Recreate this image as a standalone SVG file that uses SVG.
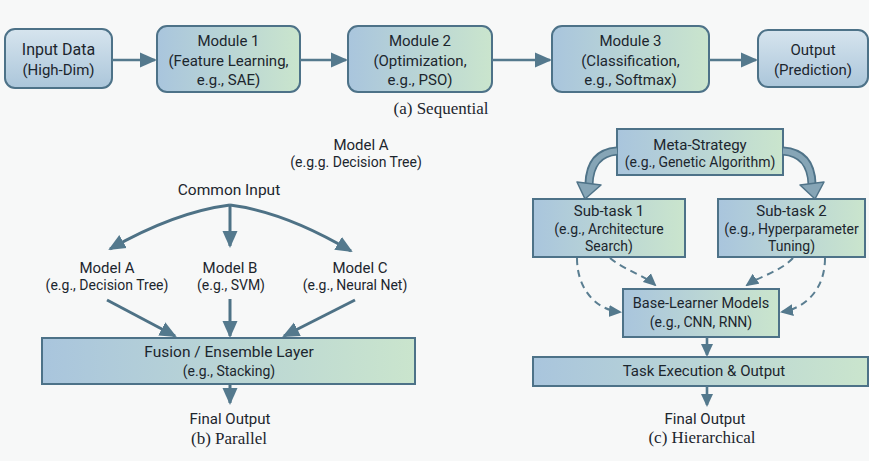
<svg xmlns="http://www.w3.org/2000/svg" width="869" height="461" viewBox="0 0 869 461">
<defs>
<style>
.t{font-family:Roboto,"Liberation Sans",sans-serif;fill:#1c262e;text-anchor:middle;font-size:15px}
.s{font-size:14px}
.cap{font-family:"Liberation Serif",serif;fill:#1c262e;text-anchor:middle;font-size:17px}
.box{stroke:#4d7288;stroke-width:2;fill:url(#gH)}
.boxv{stroke:#4d7288;stroke-width:2;fill:url(#gV)}
.ln{fill:none;stroke:#54798d;stroke-width:2.6}
.ln3{fill:none;stroke:#4e7286;stroke-width:3}
.dash{fill:none;stroke:#5a7e91;stroke-width:2;stroke-dasharray:7 5}
</style>
<linearGradient id="gH" x1="0" y1="0" x2="1" y2="0">
<stop offset="0" stop-color="#a9c5dd"/><stop offset="1" stop-color="#cae5cd"/>
</linearGradient>
<linearGradient id="gV" x1="0" y1="0" x2="0" y2="1">
<stop offset="0" stop-color="#d6e4ee"/><stop offset="1" stop-color="#abc6da"/>
</linearGradient>
<marker id="aL" markerUnits="userSpaceOnUse" markerWidth="17" markerHeight="16" viewBox="0 0 17 16" refX="15" refY="8" orient="auto">
<path d="M0,0.5 L17,8 L0,15.5 z" fill="#54798d"/>
</marker>
<marker id="aS" markerUnits="userSpaceOnUse" markerWidth="13" markerHeight="13" viewBox="0 0 13 13" refX="11" refY="6.5" orient="auto">
<path d="M0,0.5 L13,6.5 L0,12.5 z" fill="#54798d"/>
</marker>
</defs>
<rect width="869" height="461" fill="#f7f8f8"/>

<!-- (a) Sequential -->
<g id="input-data">
<rect class="boxv" x="5" y="29" width="107" height="59" rx="10"/>
<text class="t" x="58.5" y="54.5" style="font-size:16px">Input Data</text>
<text class="t" x="58.5" y="74.5">(High-Dim)</text>
</g>
<g id="module-1">
<rect class="box" x="157" y="26" width="143" height="66" rx="10"/>
<text class="t" x="228.5" y="46">Module 1</text>
<text class="t" x="228.5" y="65.5">(Feature Learning,</text>
<text class="t" x="228.5" y="85">e.g., SAE)</text>
</g>
<g id="module-2">
<rect class="box" x="348" y="26" width="144" height="66" rx="10"/>
<text class="t" x="420" y="46">Module 2</text>
<text class="t" x="420" y="65.5">(Optimization,</text>
<text class="t" x="420" y="85">e.g., PSO)</text>
</g>
<g id="module-3">
<rect class="box" x="552" y="26" width="157" height="66" rx="10"/>
<text class="t" x="630.5" y="46">Module 3</text>
<text class="t" x="630.5" y="65.5">(Classification,</text>
<text class="t" x="630.5" y="85">e.g., Softmax)</text>
</g>
<g id="output">
<rect class="boxv" x="758" y="30" width="110" height="57" rx="10"/>
<text class="t" x="813" y="54.5">Output</text>
<text class="t" x="813" y="74.5">(Prediction)</text>
</g>
<text class="cap" x="441" y="114">(a) Sequential</text>

<!-- (b) Parallel -->
<g id="model-a-note">
<text class="t" x="361" y="150">Model A</text>
<text class="t s" x="356" y="167">(e.g.g. Decision Tree)</text>
</g>
<g id="common-input">
<text class="t" x="229" y="195" style="font-size:15.5px">Common Input</text>
</g>
<g id="model-a">
<text class="t" x="107" y="273">Model A</text>
<text class="t s" x="107" y="290">(e.g., Decision Tree)</text>
</g>
<g id="model-b">
<text class="t" x="230" y="273">Model B</text>
<text class="t s" x="231" y="290">(e.g., SVM)</text>
</g>
<g id="model-c">
<text class="t" x="360" y="273">Model C</text>
<text class="t s" x="355" y="290">(e.g., Neural Net)</text>
</g>
<g id="fusion">
<rect class="box" x="42" y="338" width="373" height="46"/>
<text class="t" x="229" y="357" style="font-size:15.5px">Fusion / Ensemble Layer</text>
<text class="t s" x="229" y="376">(e.g., Stacking)</text>
</g>
<g id="final-output-b">
<text class="t" x="230" y="424">Final Output</text>
</g>
<text class="cap" x="229" y="444">(b) Parallel</text>

<!-- (c) Hierarchical -->
<g id="meta-strategy">
<rect class="box" x="617" y="129" width="166" height="46"/>
<text class="t" x="700" y="150">Meta-Strategy</text>
<text class="t s" x="700" y="167">(e.g., Genetic Algorithm)</text>
</g>
<g id="subtask-1">
<rect class="box" x="533" y="199" width="152" height="58"/>
<text class="t" x="609" y="216">Sub-task 1</text>
<text class="t s" x="609" y="234">(e.g., Architecture</text>
<text class="t s" x="609" y="251">Search)</text>
</g>
<g id="subtask-2">
<rect class="box" x="718" y="199" width="147" height="58"/>
<text class="t" x="791.5" y="216">Sub-task 2</text>
<text class="t s" x="791.5" y="234">(e.g., Hyperparameter</text>
<text class="t s" x="791.5" y="251">Tuning)</text>
</g>
<g id="base-learner">
<rect class="box" x="623" y="289" width="156" height="48"/>
<text class="t" x="701" y="308" style="font-size:14.5px">Base-Learner Models</text>
<text class="t s" x="701" y="327">(e.g., CNN, RNN)</text>
</g>
<g id="task-execution">
<rect class="box" x="533" y="357" width="335" height="29"/>
<text class="t" x="704" y="376">Task Execution &amp; Output</text>
</g>
<g id="final-output-c">
<text class="t" x="705" y="424">Final Output</text>
</g>
<text class="cap" x="702" y="443">(c) Hierarchical</text>

<g id="connectors">
<!-- sequential -->
<path class="ln" d="M112,60 H155" marker-end="url(#aL)"/>
<path class="ln" d="M300,60 H346" marker-end="url(#aL)"/>
<path class="ln" d="M492,60 H550" marker-end="url(#aL)"/>
<path class="ln" d="M709,60 H756" marker-end="url(#aL)"/>
<!-- parallel -->
<path class="ln3" d="M230,205 Q175,212 110,249" marker-end="url(#aL)"/>
<path class="ln3" d="M230,205 V246" marker-end="url(#aL)"/>
<path class="ln3" d="M230,205 Q285,212 351,251" marker-end="url(#aL)"/>
<path class="ln3" d="M107,300 L175,336" marker-end="url(#aL)"/>
<path class="ln3" d="M230,299 V336" marker-end="url(#aL)"/>
<path class="ln3" d="M355,300 L284,336" marker-end="url(#aL)"/>
<path class="ln3" d="M230,384 V403" marker-end="url(#aL)"/>
<!-- hierarchical thick curved -->
<path d="M617,151 Q590,153 589,184" fill="none" stroke="#4f7388" stroke-width="9"/>
<path d="M617,151 Q590,153 589,185" fill="none" stroke="#86a5b6" stroke-width="5.5"/>
<path d="M577,182 L601,185 L585,199 z" fill="#86a5b6" stroke="#4f7388" stroke-width="1.5" stroke-linejoin="round"/>
<path d="M783,151 Q811,153 812,184" fill="none" stroke="#4f7388" stroke-width="9"/>
<path d="M783,151 Q811,153 812,185" fill="none" stroke="#86a5b6" stroke-width="5.5"/>
<path d="M800,185 L824,182 L815,199 z" fill="#86a5b6" stroke="#4f7388" stroke-width="1.5" stroke-linejoin="round"/>
<!-- dashed -->
<path class="dash" d="M577,258 C577,290 597,310 620,312" marker-end="url(#aS)"/>
<path class="dash" d="M610,258 C624,270 644,275 655,285" marker-end="url(#aS)"/>
<path class="dash" d="M793,258 C780,272 760,276 747,285" marker-end="url(#aS)"/>
<path class="dash" d="M825,258 C825,290 805,308 782,312" marker-end="url(#aS)"/>
<!-- solid -->
<path class="ln" d="M707,337 V355" marker-end="url(#aS)"/>
<path class="ln" d="M707,386 V405" marker-end="url(#aS)"/>
</g>
</svg>
